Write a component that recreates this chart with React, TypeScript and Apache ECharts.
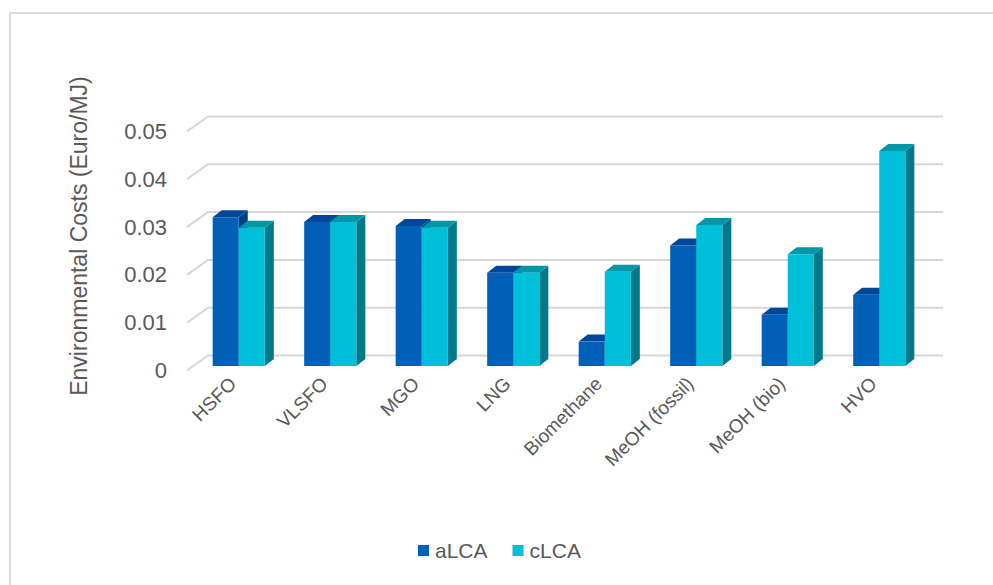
import React, { useEffect, useRef } from "react";
import * as echarts from "echarts";

const categories = ["HSFO", "VLSFO", "MGO", "LNG", "Biomethane", "MeOH (fossil)", "MeOH (bio)", "HVO"];
const aLCA = [0.0311, 0.0301, 0.0293, 0.0195, 0.0051, 0.0252, 0.0107, 0.0149];
const cLCA = [0.0289, 0.0301, 0.0289, 0.0195, 0.0197, 0.0295, 0.0234, 0.045];
const yTicks = [0, 0.01, 0.02, 0.03, 0.04, 0.05];

const FONT = "Liberation Sans, Arial, sans-serif";
const TEXT_COLOR = "#595959";

// floor depth (front of floor -> back wall)
const WALL_DX = 21;
const WALL_DY = -15;
// bar front plane offset from floor front
const BAR_DX = 6;
const BAR_DY = -4.5;
// bar depth
const DEPTH_DX = 9;
const DEPTH_DY = -7;

function makeBarRender(seriesIdx: number, colors: { front: string; top: string; side: string }) {
  return (params: any, api: any) => {
    const cat = api.value(0);
    const v = api.value(1);
    const base = api.coord([cat, 0]);
    const top = api.coord([cat, v]);
    const catW = api.size([1, 0])[0];
    const w = catW * 0.285;
    const cx = base[0] + BAR_DX;
    const x0 = seriesIdx === 0 ? cx - w : cx;
    const yb = base[1] + BAR_DY;
    const yt = top[1] + BAR_DY;
    return {
      type: "group",
      children: [
        {
          type: "polygon",
          shape: {
            points: [
              [x0 + w, yt],
              [x0 + w + DEPTH_DX, yt + DEPTH_DY],
              [x0 + w + DEPTH_DX, yb + DEPTH_DY],
              [x0 + w, yb],
            ],
          },
          style: { fill: colors.side },
        },
        {
          type: "polygon",
          shape: {
            points: [
              [x0, yt],
              [x0 + w, yt],
              [x0 + w + DEPTH_DX, yt + DEPTH_DY],
              [x0 + DEPTH_DX, yt + DEPTH_DY],
            ],
          },
          style: { fill: colors.top },
        },
        {
          type: "rect",
          shape: { x: x0, y: yt, width: w, height: yb - yt },
          style: { fill: colors.front },
        },
      ],
    };
  };
}

export default function App() {
  const ref = useRef<HTMLDivElement>(null);
  useEffect(() => {
    if (!ref.current) return;
    const chart = echarts.init(ref.current, null, { renderer: "svg" });
    const option: any = {
      animation: false,
      backgroundColor: "#ffffff",
      textStyle: { fontFamily: FONT },
      graphic: [
        {
          type: "rect",
          shape: { x: 10, y: 13, width: 1000, height: 600 },
          style: { fill: "none", stroke: "#dcdcdc", lineWidth: 2 },
          z: 0,
        },
        {
          type: "text",
          x: 79,
          y: 236,
          rotation: Math.PI / 2,
          style: {
            text: "Environmental Costs (Euro/MJ)",
            align: "center",
            verticalAlign: "middle",
            fontSize: 23,
            fontFamily: FONT,
            fill: TEXT_COLOR,
          },
        },
      ],
      grid: { left: 187, top: 131.5, width: 732, height: 239 },
      legend: {
        data: ["aLCA", "cLCA"],
        left: 413,
        top: 535,
        icon: "rect",
        itemWidth: 11,
        itemHeight: 11,
        itemGap: 25,
        textStyle: { fontSize: 21, color: TEXT_COLOR, fontFamily: FONT, padding: [0, 0, 0, 1] },
      },
      xAxis: {
        type: "category",
        data: categories,
        axisLine: { show: false },
        axisTick: { show: false },
        axisLabel: {
          rotate: 45,
          interval: 0,
          fontSize: 19,
          color: TEXT_COLOR,
          fontFamily: FONT,
          margin: 10,
        },
      },
      yAxis: {
        type: "value",
        min: 0,
        max: 0.05,
        interval: 0.01,
        axisLine: { show: false },
        axisTick: { show: false },
        splitLine: { show: false },
        axisLabel: { fontSize: 22, color: TEXT_COLOR, fontFamily: FONT, margin: 20 },
      },
      series: [
        {
          name: "grid",
          type: "custom",
          silent: true,
          z: 1,
          data: yTicks.map((t) => [0, t]),
          renderItem: (params: any, api: any) => {
            const cs = params.coordSys;
            const y = api.coord([0, api.value(1)])[1];
            return {
              type: "polyline",
              shape: {
                points: [
                  [cs.x, y],
                  [cs.x + WALL_DX, y + WALL_DY],
                  [cs.x + cs.width + WALL_DX + 3, y + WALL_DY],
                ],
              },
              style: { stroke: "#d6d6d6", lineWidth: 2, fill: "none" },
            };
          },
        },
        {
          name: "aLCA",
          type: "custom",
          z: 2,
          itemStyle: { color: "#0060B8" },
          data: aLCA.map((v, i) => [i, v]),
          renderItem: makeBarRender(0, { front: "#0060B8", top: "#00479A", side: "#003E86" }),
        },
        {
          name: "cLCA",
          type: "custom",
          z: 3,
          itemStyle: { color: "#00BFD8" },
          data: cLCA.map((v, i) => [i, v]),
          renderItem: makeBarRender(1, { front: "#00BFD8", top: "#0097A9", side: "#00798A" }),
        },
      ],
    };
    chart.setOption(option);
    return () => chart.dispose();
  }, []);
  return (
    <div
      ref={ref}
      style={{ position: "fixed", left: 0, top: 0, width: 993, height: 585 }}
    />
  );
}
